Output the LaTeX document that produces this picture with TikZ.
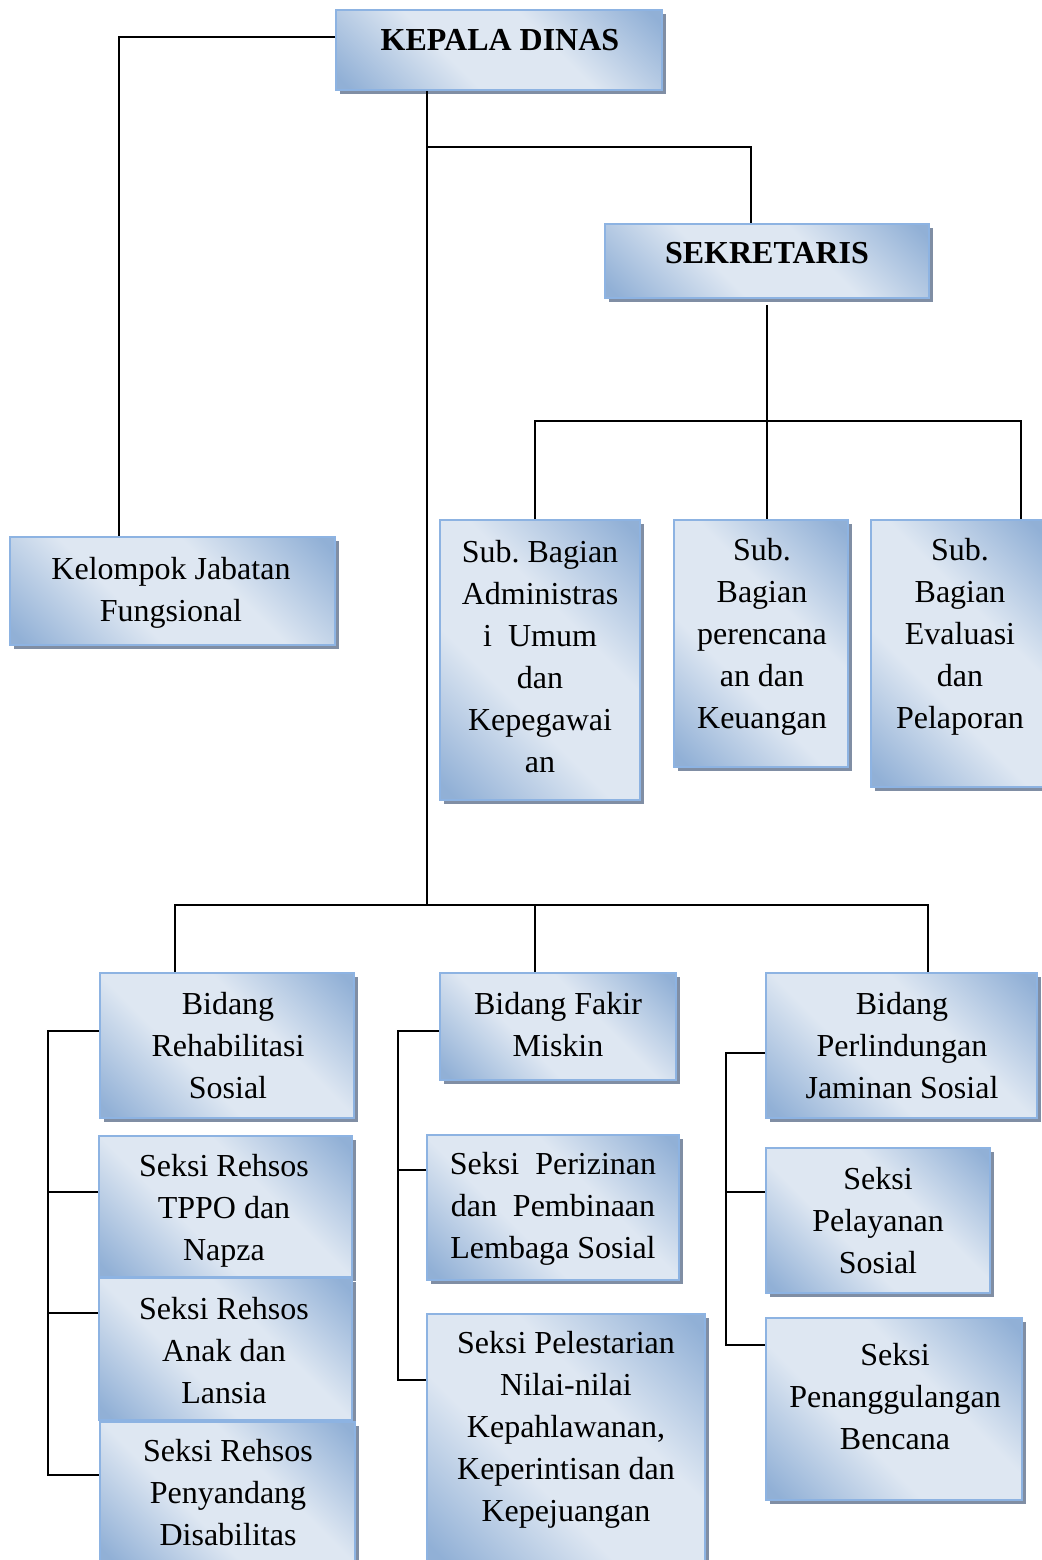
\documentclass[tikz,border=0pt]{standalone}
\usepackage{fontspec}
\setmainfont{Liberation Serif}
\usetikzlibrary{calc,fit,shadows}
\definecolor{bxblue}{RGB}{145,176,214}
\definecolor{bxlight}{RGB}{222,231,242}
\definecolor{bxedge}{RGB}{141,179,226}
\definecolor{bxshadow}{RGB}{128,142,164}
\pgfdeclareverticalshading{orgshade}{100bp}{color(0bp)=(bxblue); color(17bp)=(bxblue); color(40bp)=(bxlight); color(60bp)=(bxlight); color(83bp)=(bxblue); color(100bp)=(bxblue)}
\frenchspacing
\begin{document}
\begin{tikzpicture}[x=0.5pt,y=-0.5pt,
  orgbox/.style={draw=bxedge, line width=0.8pt, inner sep=0pt,
    shade, shading=orgshade, shading angle=-45,
    drop shadow={shadow xshift=2pt, shadow yshift=-2pt, fill=bxshadow, opacity=1}},
  txt/.style={align=center, font=\fontsize{16}{21}\selectfont, inner sep=0pt},
  link/.style={line width=0.8pt, black}]
\useasboundingbox (0,0) rectangle (1041,1560);
% boxes
\node[orgbox, fit={(336,10)(662,90)}] (kd) {};
\node[orgbox, fit={(605,224)(929,298)}] (sek) {};
\node[orgbox, fit={(10,537)(335,645)}] (kjf) {};
\node[orgbox, fit={(440,520)(640,800)}] (sub1) {};
\node[orgbox, fit={(674,520)(848,767)}] (sub2) {};
\node[orgbox, fit={(871,520)(1045,787)}] (sub3) {};
\node[orgbox, fit={(100,973)(354,1118)}] (bid1) {};
\node[orgbox, fit={(440,973)(676,1080)}] (bid2) {};
\node[orgbox, fit={(766,973)(1037,1118)}] (bid3) {};
\node[orgbox, fit={(99,1136)(352,1277)}] (s1) {};
\node[orgbox, fit={(99,1278)(352,1420)}] (s2) {};
\node[orgbox, fit={(100,1422)(355,1562)}] (s3) {};
\node[orgbox, fit={(427,1135)(679,1280)}] (s4) {};
\node[orgbox, fit={(427,1314)(705,1562)}] (s5) {};
\node[orgbox, fit={(766,1148)(990,1293)}] (s6) {};
\node[orgbox, fit={(766,1318)(1022,1500)}] (s7) {};
% texts
\node[txt, font=\fontsize{16}{21}\selectfont\bfseries] (kdt) at (500,40) {KEPALA DINAS};
\node[txt, font=\fontsize{16}{21}\selectfont\bfseries] (sekt) at (767,253) {SEKRETARIS};
\node[txt] (kjft) at (171,593) {Kelompok Jabatan\\Fungsional};
\node[txt] (sub1t) at (540,657) {Sub. Bagian\\Administras\\i\ \ Umum\\dan\\Kepegawai\\an};
\node[txt] (sub2t) at (762,637) {Sub.\\Bagian\\perencana\\an dan\\Keuangan};
\node[txt] (sub3t) at (960,637) {Sub.\\Bagian\\Evaluasi\\dan\\Pelaporan};
\node[txt] (bid1t) at (228,1046) {Bidang\\Rehabilitasi\\Sosial};
\node[txt] (bid2t) at (558,1025) {Bidang Fakir\\Miskin};
\node[txt] (bid3t) at (902,1046) {Bidang\\Perlindungan\\Jaminan Sosial};
\node[txt] (s1t) at (224,1211) {Seksi Rehsos\\TPPO dan\\Napza};
\node[txt] (s2t) at (224,1351) {Seksi Rehsos\\Anak dan\\Lansia};
\node[txt] (s3t) at (228,1493) {Seksi Rehsos\\Penyandang\\Disabilitas};
\node[txt] (s4t) at (553,1209) {Seksi\ \ Perizinan\\dan\ \ Pembinaan\\Lembaga Sosial};
\node[txt] (s5t) at (566,1430) {Seksi Pelestarian\\Nilai-nilai\\Kepahlawanan,\\Keperintisan dan\\Kepejuangan};
\node[txt] (s6t) at (878,1221) {Seksi\\Pelayanan\\Sosial};
\node[txt] (s7t) at (895,1397) {Seksi\\Penanggulangan\\Bencana};
% connectors
\coordinate (jb) at (427,905);
\draw[link] ($(kd.west)+(0,-13)$) -| ($(kjf.north)+(-53.5,0)$);
\draw[link] ($(kd.south)+(-72,0)$) -- (jb);
\draw[link] ($(kd.south)+(-72,56)$) -| ($(sek.north)+(-16,0)$);
\draw[link] ($(sek.south)+(0,6)$) -- (sek.south |- sub2.north);
\draw[link] ($(sub1.north)+(-5,0)$) |- ($(sek.south)+(0,122)$) -| ($(sub3.north)+(63,0)$);
\draw[link] ($(bid1.north)+(-52,0)$) |- (jb) -| ($(bid3.north)+(26.5,0)$);
\draw[link] ($(bid2.north)+(-23,0)$) -- ($(bid2.north)+(-23,-68)$);
% left bus
\draw[link] ($(bid1.west)+(0,-14.5)$) -- ++(-51,0) |- ($(s3.west)+(0,-17)$);
\draw[link] ($(s1.west)+(0,-14.5)$) -- ++(-50,0);
\draw[link] ($(s2.west)+(0,-36)$) -- ++(-50,0);
% middle bus
\draw[link] ($(bid2.west)+(0,4.5)$) -- ++(-41,0) |- ($(s5.west)+(0,-58)$);
\draw[link] ($(s4.west)+(0,-37.5)$) -- ++(-28,0);
% right bus
\draw[link] ($(bid3.west)+(0,7.5)$) -- ++(-39,0) |- ($(s7.west)+(0,-64)$);
\draw[link] ($(s6.west)+(0,-28.5)$) -- ++(-39,0);
\end{tikzpicture}
\end{document}
